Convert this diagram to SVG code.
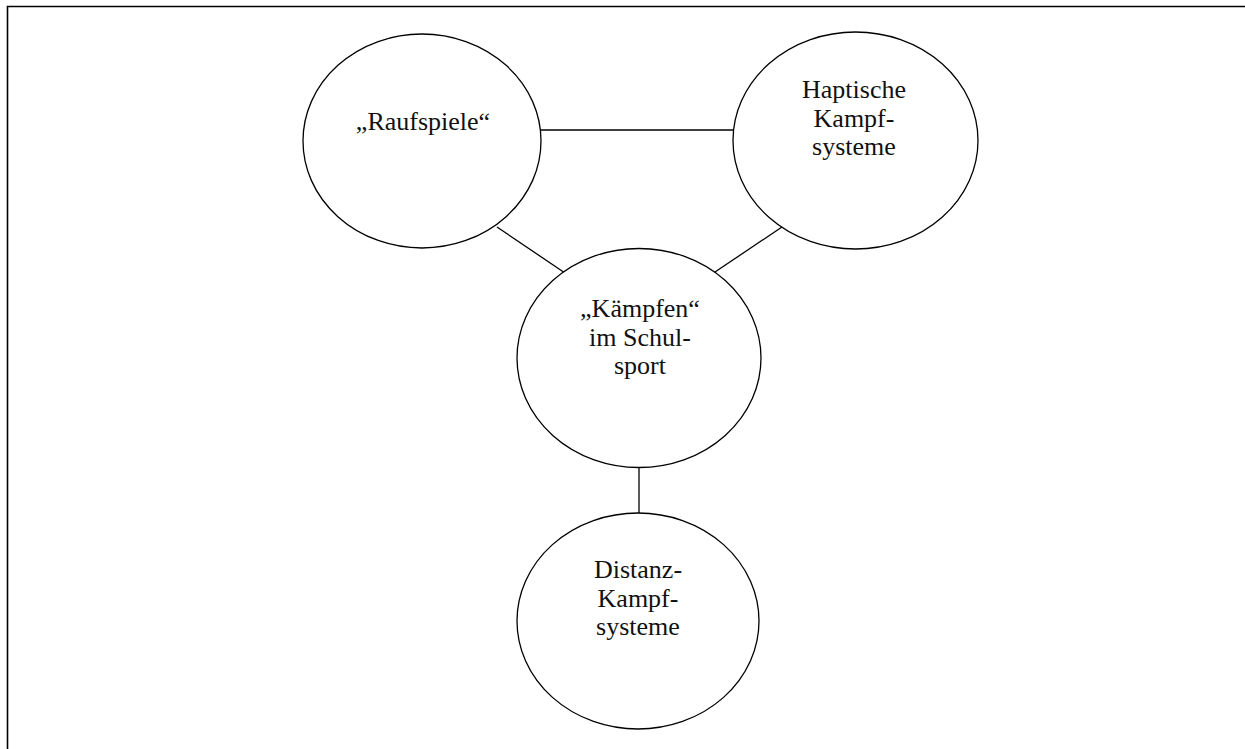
<svg xmlns="http://www.w3.org/2000/svg" width="1245" height="749" viewBox="0 0 1245 749">
<style>
.node ellipse{fill:#fff;stroke:#000;stroke-width:1.3}
.node text{font-family:"Liberation Serif","Times New Roman",serif;font-size:26px;fill:#111;text-anchor:middle}
.conn line{stroke:#000;stroke-width:1.3}
.frame{fill:none;stroke:#000;stroke-width:1.6}
</style>
<rect width="1245" height="749" fill="#fff"/>
<path class="frame" d="M7.5,749 V6.5 H1245"/>
<g class="conn" id="connectors">
<line x1="541" y1="130" x2="733" y2="130"/>
<line x1="497" y1="227" x2="565" y2="273"/>
<line x1="782" y1="227" x2="712" y2="274"/>
<line x1="639" y1="467" x2="639" y2="513"/>
</g>
<g class="node" id="raufspiele">
<ellipse cx="422" cy="141" rx="119" ry="107"/>
<text x="423" y="130">„Raufspiele“</text>
</g>
<g class="node" id="haptische">
<ellipse cx="855.5" cy="140.5" rx="122.5" ry="108.5"/>
<text x="854" y="98">Haptische</text>
<text x="854" y="126.5">Kampf-</text>
<text x="854" y="154.5">systeme</text>
</g>
<g class="node" id="kaempfen">
<ellipse cx="639" cy="358" rx="122" ry="109.5"/>
<text x="640" y="317">„Kämpfen“</text>
<text x="640" y="345.5">im Schul-</text>
<text x="640" y="373.5">sport</text>
</g>
<g class="node" id="distanz">
<ellipse cx="638" cy="621" rx="121" ry="108"/>
<text x="638" y="578">Distanz-</text>
<text x="638" y="606.5">Kampf-</text>
<text x="638" y="635">systeme</text>
</g>
</svg>
